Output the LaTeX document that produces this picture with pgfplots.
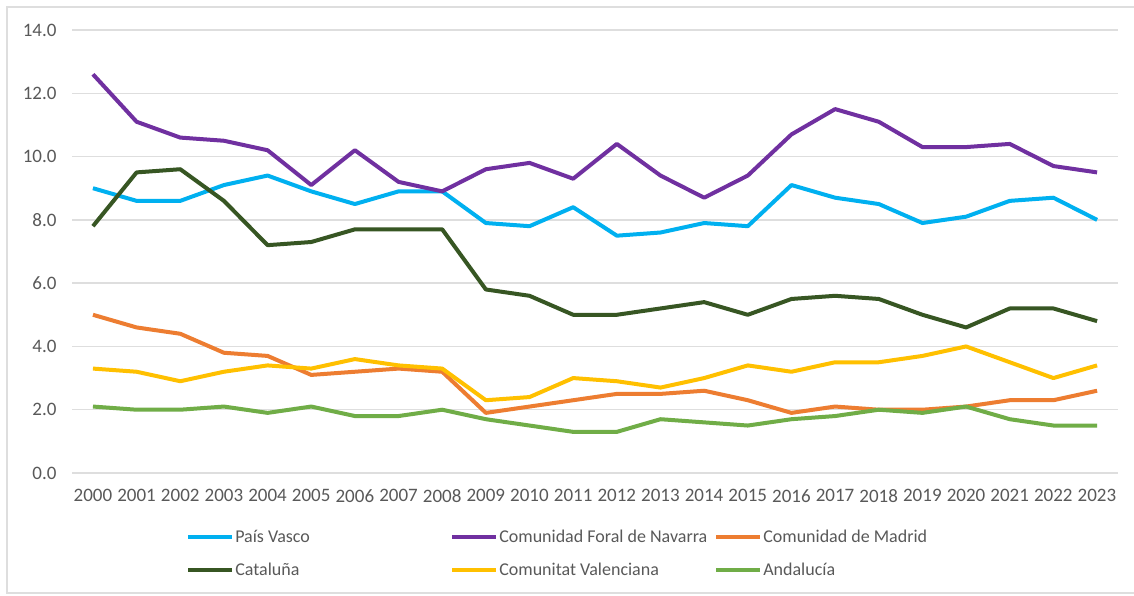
\documentclass[border=0pt]{standalone}
\usepackage{pgfplots}
\pgfplotsset{compat=1.18}
\usepackage{fontspec}
\setmainfont{Carlito}
\definecolor{cVasco}{RGB}{0,176,240}
\definecolor{cNavarra}{RGB}{112,48,160}
\definecolor{cMadrid}{RGB}{237,125,49}
\definecolor{cCat}{RGB}{55,86,35}
\definecolor{cVal}{RGB}{255,192,0}
\definecolor{cAnd}{RGB}{112,173,71}
\definecolor{gridc}{RGB}{222,222,222}
\definecolor{txt}{RGB}{89,89,89}
\pgfplotstableread{
year vasco navarra madrid cat val and
2000 9.0 12.6 5.0 7.8 3.3 2.1
2001 8.6 11.1 4.6 9.5 3.2 2.0
2002 8.6 10.6 4.4 9.6 2.9 2.0
2003 9.1 10.5 3.8 8.6 3.2 2.1
2004 9.4 10.2 3.7 7.2 3.4 1.9
2005 8.9 9.1 3.1 7.3 3.3 2.1
2006 8.5 10.2 3.2 7.7 3.6 1.8
2007 8.9 9.2 3.3 7.7 3.4 1.8
2008 8.9 8.9 3.2 7.7 3.3 2.0
2009 7.9 9.6 1.9 5.8 2.3 1.7
2010 7.8 9.8 2.1 5.6 2.4 1.5
2011 8.4 9.3 2.3 5.0 3.0 1.3
2012 7.5 10.4 2.5 5.0 2.9 1.3
2013 7.6 9.4 2.5 5.2 2.7 1.7
2014 7.9 8.7 2.6 5.4 3.0 1.6
2015 7.8 9.4 2.3 5.0 3.4 1.5
2016 9.1 10.7 1.9 5.5 3.2 1.7
2017 8.7 11.5 2.1 5.6 3.5 1.8
2018 8.5 11.1 2.0 5.5 3.5 2.0
2019 7.9 10.3 2.0 5.0 3.7 1.9
2020 8.1 10.3 2.1 4.6 4.0 2.1
2021 8.6 10.4 2.3 5.2 3.5 1.7
2022 8.7 9.7 2.3 5.2 3.0 1.5
2023 8.0 9.5 2.6 4.8 3.4 1.5
}\datatable
\begin{document}
\begin{tikzpicture}
\useasboundingbox (0,0) rectangle (1134pt,595pt);
\fill[white] (0,0) rectangle (1134pt,595pt);
\draw[gridc, line width=1.5pt] (1140pt,588pt) -- (7pt,588pt) -- (7pt,2pt) -- (1140pt,2pt);
\begin{axis}[
  at={(72pt,122pt)}, anchor=south west,
  scale only axis, width=1046pt, height=443pt,
  xmin=1999.52, xmax=2023.48, ymin=0, ymax=14,
  xtick={2000,...,2023}, ytick={0,2,...,14},
  axis line style={draw=none},
  major tick length=0pt,
  ymajorgrids, grid style={gridc, line width=1.5pt},
  tick label style={font=\fontsize{19}{21}\selectfont, text=txt},
  x tick label style={/pgf/number format/1000 sep={}, yshift=-13pt},
  y tick label style={/pgf/number format/.cd, fixed, fixed zerofill, precision=1, assume math mode=true, /tikz/.cd, xshift=-12pt},
  x tick label style={/pgf/number format/assume math mode=true},
  legend columns=3,
  legend cell align=left,
  legend style={at={(0.1062,-0.122)}, anchor=north west, draw=none, fill=none,
    font=\fontsize{18}{20}\selectfont, text=txt,
    nodes={inner sep=1pt},
    /tikz/every even column/.append style={column sep=0pt},
    row sep=17pt},
  legend image code/.code={\draw[line width=4pt] (0pt,0pt) -- (44pt,0pt);},
  every axis plot/.append style={line width=4pt, line join=round, no markers},
]
\addplot[cVasco] table[x=year,y=vasco]{\datatable};
\addlegendentry{\makebox[214pt][l]{País Vasco}}
\addplot[cNavarra] table[x=year,y=navarra]{\datatable};
\addlegendentry{\makebox[214pt][l]{Comunidad Foral de Navarra}}
\addplot[cMadrid] table[x=year,y=madrid]{\datatable};
\addlegendentry{\makebox[214pt][l]{Comunidad de Madrid}}
\addplot[cCat] table[x=year,y=cat]{\datatable};
\addlegendentry{\makebox[214pt][l]{Cataluña}}
\addplot[cVal] table[x=year,y=val]{\datatable};
\addlegendentry{\makebox[214pt][l]{Comunitat Valenciana}}
\addplot[cAnd] table[x=year,y=and]{\datatable};
\addlegendentry{\makebox[214pt][l]{Andalucía}}
\end{axis}
\end{tikzpicture}
\end{document}
